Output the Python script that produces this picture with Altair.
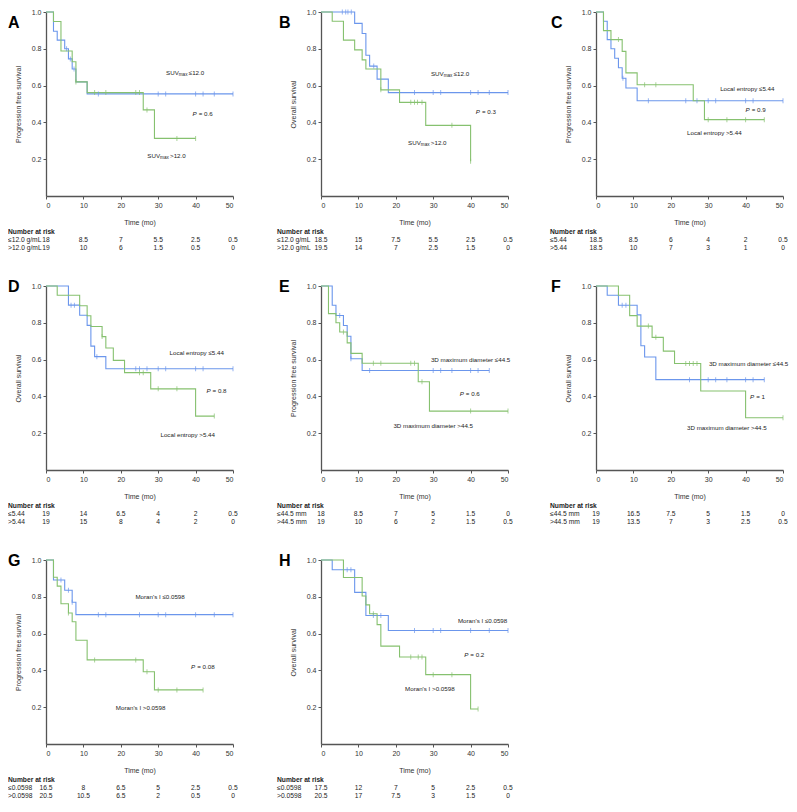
import altair as alt
import pandas as pd

BLUE = "#6b96ec"
GREEN = "#86c16f"
FONT = "Liberation Sans"
TXT = "#222222"
W, H = 187, 184
AFS = 6.2   # annotation font size
RFS = 6.7   # risk table font size

# ---------------- data ----------------
# A: PFS by SUVmax
A_lo_t = [0, 2, 3, 5, 6, 7, 8, 11, 50]
A_lo_s = [1.0, 0.895, 0.847, 0.80, 0.745, 0.69, 0.62, 0.555, 0.555]
A_lo_c = [5.5, 6.5, 7.5, 14, 30, 32, 40, 42, 45, 50]
A_hi_t = [0, 2, 4, 7, 8, 11, 26, 29, 40]
A_hi_s = [1.0, 0.948, 0.788, 0.73, 0.62, 0.562, 0.468, 0.313, 0.313]
A_hi_c = [8, 13, 16, 24, 25, 27, 35, 40]
A_risk_lo = [18, 8.5, 7, 5.5, 2.5, 0.5]
A_risk_hi = [19, 10, 6, 1.5, 0.5, 0]

# B: OS by SUVmax
B_lo_t = [0, 9, 11, 12, 13, 15, 18, 50]
B_lo_s = [1.0, 0.938, 0.883, 0.765, 0.706, 0.635, 0.562, 0.562]
B_lo_c = [5.7, 6.6, 7.2, 8.1, 14.1, 25, 30, 32, 40, 42, 45, 50]
B_hi_t = [0, 3, 6, 9, 11, 12, 16, 21, 28, 40]
B_hi_s = [1.0, 0.95, 0.847, 0.794, 0.74, 0.69, 0.577, 0.509, 0.384, 0.189]
B_hi_c = [16, 24, 25, 25.8, 27, 35, 40]
B_risk_lo = [18.5, 15, 7.5, 5.5, 2.5, 0.5]
B_risk_hi = [19.5, 14, 7, 2.5, 1.5, 0]

# C: PFS by local entropy
C_lo_t = [0, 2, 3, 4, 5, 6, 7, 8, 11, 50]
C_lo_s = [1.0, 0.95, 0.85, 0.80, 0.749, 0.697, 0.64, 0.587, 0.518, 0.518]
C_lo_c = [7.2, 14, 24, 27, 30, 32, 40, 42, 50]
C_hi_t = [0, 2, 4, 7, 8, 11, 26, 29, 45]
C_hi_s = [1.0, 0.899, 0.85, 0.786, 0.669, 0.605, 0.518, 0.415, 0.415]
C_hi_c = [6, 13, 16, 30, 35, 40, 45]
C_risk_lo = [18.5, 8.5, 6, 4, 2, 0.5]
C_risk_hi = [18.5, 10, 7, 3, 1, 0]

# D: OS by local entropy
D_lo_t = [0, 6, 9, 11, 12, 13, 16, 50]
D_lo_s = [1.0, 0.896, 0.841, 0.786, 0.673, 0.616, 0.55, 0.55]
D_lo_c = [6.7, 7.6, 13.6, 24, 25, 27, 30, 32, 40, 42, 50]
D_hi_t = [0, 3, 9, 11, 12, 15, 16, 18, 21, 28, 40, 45]
D_hi_s = [1.0, 0.95, 0.893, 0.838, 0.78, 0.725, 0.663, 0.596, 0.529, 0.441, 0.293, 0.293]
D_hi_c = [15, 25, 26, 30, 35, 45]
D_risk_lo = [19, 14, 6.5, 4, 2, 0.5]
D_risk_hi = [19, 15, 8, 4, 2, 0]

# E: PFS by 3D maximum diameter
E_lo_t = [0, 3, 4, 6, 7, 8, 11, 45]
E_lo_s = [1.0, 0.895, 0.84, 0.785, 0.727, 0.605, 0.541, 0.541]
E_lo_c = [5, 8, 13, 30, 32, 35, 40, 42, 45]
E_hi_t = [0, 2, 4, 5, 7, 8, 11, 26, 29, 50]
E_hi_s = [1.0, 0.85, 0.80, 0.75, 0.691, 0.634, 0.58, 0.48, 0.32, 0.32]
E_hi_c = [6, 14, 16, 24, 25, 27, 40, 50]
E_risk_lo = [18, 8.5, 7, 5, 1.5, 0]
E_risk_hi = [19, 10, 6, 2, 1.5, 0.5]

# F: OS by 3D maximum diameter
F_lo_t = [0, 3, 6, 11, 12, 13, 16, 45]
F_lo_s = [1.0, 0.95, 0.895, 0.843, 0.675, 0.614, 0.491, 0.491]
F_lo_c = [7, 8, 25, 30, 32, 35, 40, 42, 45]
F_hi_t = [0, 6, 9, 11, 15, 18, 21, 28, 40, 50]
F_hi_s = [1.0, 0.95, 0.839, 0.782, 0.721, 0.646, 0.579, 0.429, 0.284, 0.284]
F_hi_c = [14, 16, 24, 25, 26, 27, 50]
F_risk_lo = [19, 16.5, 7.5, 5, 1.5, 0]
F_risk_hi = [19, 13.5, 7, 3, 2.5, 0.5]

# G: PFS by Moran's I
G_lo_t = [0, 2, 5, 7, 8, 50]
G_lo_s = [1.0, 0.891, 0.836, 0.77, 0.703, 0.703]
G_lo_c = [4, 6, 7, 14, 16, 25, 30, 32, 40, 45, 50]
G_hi_t = [0, 2, 3, 4, 6, 7, 8, 11, 26, 29, 42]
G_hi_s = [1.0, 0.906, 0.858, 0.762, 0.712, 0.664, 0.564, 0.457, 0.393, 0.294, 0.294]
G_hi_c = [6, 13, 24, 27, 30, 35, 42]
G_risk_lo = [16.5, 8, 6.5, 5, 2.5, 0.5]
G_risk_hi = [20.5, 10.5, 6.5, 2, 0.5, 0]

# H: OS by Moran's I
H_lo_t = [0, 3, 9, 12, 18, 50]
H_lo_s = [1.0, 0.947, 0.824, 0.698, 0.617, 0.617]
H_lo_c = [7, 8, 14, 16, 25, 30, 32, 40, 45, 50]
H_hi_t = [0, 6, 11, 12, 13, 15, 16, 21, 28, 40, 42]
H_hi_s = [1.0, 0.905, 0.804, 0.756, 0.708, 0.649, 0.532, 0.473, 0.377, 0.19, 0.19]
H_hi_c = [14, 24, 26, 27, 30, 35, 42]
H_risk_lo = [17.5, 12, 7, 5, 2.5, 0.5]
H_risk_hi = [20.5, 17, 7.5, 3, 1.5, 0]

RISK_T = [0, 10, 20, 30, 40, 50]
PFS = "Progression free survival"
OS = "Overall survival"

# annotation anchors (time, survival)
PANELS = [
    dict(letter="A", ytitle=PFS, lo=(A_lo_t, A_lo_s, A_lo_c), hi=(A_hi_t, A_hi_s, A_hi_c),
         risk=(A_risk_lo, A_risk_hi), rlab=("≤12.0 g/mL", ">12.0 g/mL"),
         center=[], suv=[(35.5, 0.667, "≤12.0"), (30.5, 0.215, ">12.0")], p=(40.3, 0.445, "= 0.6")),
    dict(letter="B", ytitle=OS, lo=(B_lo_t, B_lo_s, B_lo_c), hi=(B_hi_t, B_hi_s, B_hi_c),
         risk=(B_risk_lo, B_risk_hi), rlab=("≤12.0 g/mL", ">12.0 g/mL"),
         center=[], suv=[(32.8, 0.664, "≤12.0"), (26.7, 0.29, ">12.0")], p=(42.5, 0.454, "= 0.3")),
    dict(letter="C", ytitle=PFS, lo=(C_lo_t, C_lo_s, C_lo_c), hi=(C_hi_t, C_hi_s, C_hi_c),
         risk=(C_risk_lo, C_risk_hi), rlab=("≤5.44", ">5.44"),
         center=[(40.45, 0.58, "Local entropy ≤5.44"), (31.65, 0.343, "Local entropy >5.44")],
         suv=[], p=(41.1, 0.468, "= 0.9")),
    dict(letter="D", ytitle=OS, lo=(D_lo_t, D_lo_s, D_lo_c), hi=(D_hi_t, D_hi_s, D_hi_c),
         risk=(D_risk_lo, D_risk_hi), rlab=("≤5.44", ">5.44"),
         center=[(40.3, 0.6375, "Local entropy ≤5.44"), (37.9, 0.19, "Local entropy >5.44")],
         suv=[], p=(44.0, 0.432, "= 0.8")),
    dict(letter="E", ytitle=PFS, lo=(E_lo_t, E_lo_s, E_lo_c), hi=(E_hi_t, E_hi_s, E_hi_c),
         risk=(E_risk_lo, E_risk_hi), rlab=("≤44.5 mm", ">44.5 mm"),
         center=[(40.0, 0.6, "3D maximum diameter ≤44.5"), (30.0, 0.241, "3D maximum diameter >44.5")],
         suv=[], p=(38.2, 0.414, "= 0.6")),
    dict(letter="F", ytitle=OS, lo=(F_lo_t, F_lo_s, F_lo_c), hi=(F_hi_t, F_hi_s, F_hi_c),
         risk=(F_risk_lo, F_risk_hi), rlab=("≤44.5 mm", ">44.5 mm"),
         center=[(40.8, 0.575, "3D maximum diameter ≤44.5"), (35.0, 0.227, "3D maximum diameter >44.5")],
         suv=[], p=(42.3, 0.398, "= 1")),
    dict(letter="G", ytitle=PFS, lo=(G_lo_t, G_lo_s, G_lo_c), hi=(G_hi_t, G_hi_s, G_hi_c),
         risk=(G_risk_lo, G_risk_hi), rlab=("≤0.0598", ">0.0598"),
         center=[(30.5, 0.80, "Moran's I ≤0.0598"), (25.3, 0.196, "Moran's I >0.0598")],
         suv=[], p=(39.9, 0.418, "= 0.08")),
    dict(letter="H", ytitle=OS, lo=(H_lo_t, H_lo_s, H_lo_c), hi=(H_hi_t, H_hi_s, H_hi_c),
         risk=(H_risk_lo, H_risk_hi), rlab=("≤0.0598", ">0.0598"),
         center=[(43.2, 0.667, "Moran's I ≤0.0598"), (29.1, 0.297, "Moran's I >0.0598")],
         suv=[], p=(39.4, 0.482, "= 0.2")),
]

# ---------------- helpers ----------------
def step_df(t, s, g):
    return pd.DataFrame({"t": t, "s": s, "g": g})


def censor_df(ct, t, s, g):
    vals = []
    for c in ct:
        v = s[0]
        for ti, si in zip(t, s):
            if ti <= c:
                v = si
        vals.append(v)
    return pd.DataFrame({"t": ct, "s": vals, "g": g})


def fmt(v):
    return f"{v:g}"


XS = alt.Scale(domain=[0, 50], nice=False, zero=False)
YS = alt.Scale(domain=[0, 1], nice=False)
CS = alt.Scale(domain=["lo", "hi"], range=[BLUE, GREEN])


def panel(p, col, row):
    X = alt.X("t:Q", scale=XS, axis=alt.Axis(values=RISK_T, format="d", title="Time (mo)"))
    Y = alt.Y("s:Q", scale=YS, axis=alt.Axis(values=[0.2, 0.4, 0.6, 0.8, 1.0], format=".1f", title=p["ytitle"]))
    C = alt.Color("g:N", scale=CS, legend=None)

    lo_t, lo_s, lo_c = p["lo"]
    hi_t, hi_s, hi_c = p["hi"]
    ldf = pd.concat([step_df(lo_t, lo_s, "lo"), step_df(hi_t, hi_s, "hi")])
    cdf = pd.concat([censor_df(lo_c, lo_t, lo_s, "lo"), censor_df(hi_c, hi_t, hi_s, "hi")])

    layers = []
    layers.append(alt.Chart(ldf).mark_line(interpolate="step-after", strokeWidth=1.1).encode(
        x=X, y=Y, color=C, detail="g:N"))
    layers.append(alt.Chart(cdf).mark_tick(size=5, thickness=1, orient="vertical").encode(
        x=X, y=Y, color=C))

    if p["center"]:
        df = pd.DataFrame(p["center"], columns=["t", "s", "txt"])
        layers.append(alt.Chart(df).mark_text(fontSize=AFS, align="center", baseline="middle", color=TXT).encode(
            x=X, y=Y, text="txt:N"))
    if p["suv"]:
        df = pd.DataFrame(p["suv"], columns=["t", "s", "txt"])
        layers.append(alt.Chart(df).mark_text(fontSize=AFS, align="right", baseline="middle", color=TXT).encode(
            x=X, y=Y, text=alt.value("SUV")))
        layers.append(alt.Chart(df).mark_text(fontSize=4.6, align="left", baseline="middle", dy=2,
                                              color=TXT).encode(x=X, y=Y, text=alt.value("max")))
        layers.append(alt.Chart(df).mark_text(fontSize=AFS, align="left", baseline="middle", dx=10,
                                              color=TXT).encode(x=X, y=Y, text="txt:N"))
    pdf = pd.DataFrame([p["p"]], columns=["t", "s", "txt"])
    layers.append(alt.Chart(pdf).mark_text(fontSize=AFS, align="right", baseline="middle", fontStyle="italic",
                                           color=TXT).encode(x=X, y=Y, text=alt.value("P")))
    layers.append(alt.Chart(pdf).mark_text(fontSize=AFS, align="left", baseline="middle", dx=2, color=TXT).encode(
        x=X, y=Y, text="txt:N"))

    # risk table
    rlo, rhi = p["risk"]
    one = pd.DataFrame({"a": [0]})
    lx = [-38, -44, -46][col]
    layers.append(alt.Chart(one).mark_text(fontSize=RFS, fontWeight="bold", align="left", baseline="middle",
                                           color=TXT).encode(
        x=alt.value(lx), y=alt.value(H + 36), text=alt.value("Number at risk")))
    for k, (lab, vals) in enumerate(zip(p["rlab"], (rlo, rhi))):
        yy = H + 44 + 8 * k
        layers.append(alt.Chart(one).mark_text(fontSize=RFS, align="left", baseline="middle", color=TXT).encode(
            x=alt.value(lx), y=alt.value(yy), text=alt.value(lab)))
        rdf = pd.DataFrame({"t": RISK_T, "txt": [fmt(v) for v in vals]})
        layers.append(alt.Chart(rdf).mark_text(fontSize=RFS, align="center", baseline="middle", color=TXT).encode(
            x=X, y=alt.value(yy), text="txt:N"))

    # panel letter
    ly = 3 if row == 0 else -7
    layers.append(alt.Chart(one).mark_text(fontSize=16, fontWeight="bold", align="left", baseline="top",
                                           color="#000000").encode(
        x=alt.value([-38, -42, -45][col]), y=alt.value(ly), text=alt.value(p["letter"])))

    return alt.layer(*layers).properties(width=W, height=H)


charts = [panel(p, i % 3, i // 3) for i, p in enumerate(PANELS)]

chart = alt.concat(*charts, columns=3, spacing={"row": 90, "column": 88}, bounds="flush").properties(
    padding=0, background="white"
).configure_view(stroke=None).configure_axis(
    grid=False, domainColor="#555555", domainWidth=1.3, tickColor="#555555", tickSize=3, tickWidth=1,
    labelFont=FONT, labelFontSize=7, labelColor="#333333", labelPadding=2,
    titleFont=FONT, titleFontSize=7, titleFontWeight="normal", titleColor="#333333"
).configure_axisY(titlePadding=10).configure_axisX(titlePadding=10).configure_text(font=FONT)

chart.save("out.html", embed_options={"renderer": "svg", "actions": False})
